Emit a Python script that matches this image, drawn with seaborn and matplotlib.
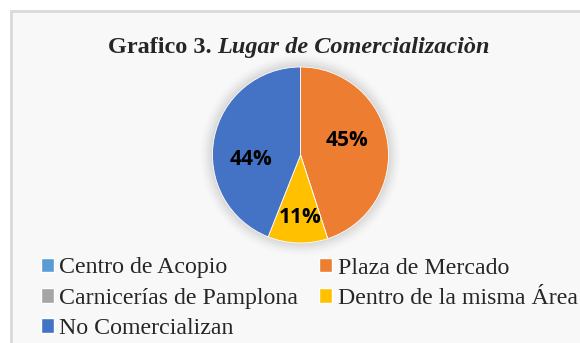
import numpy as np
import matplotlib
matplotlib.use("Agg")
import matplotlib.pyplot as plt
import seaborn as sns
from matplotlib.patches import Rectangle, Circle

sns.set_theme(style="white")
plt.rcParams["font.family"] = ["Liberation Serif", "DejaVu Serif"]

categories = ["Centro de Acopio", "Plaza de Mercado", "Carnicerías de Pamplona",
              "Dentro de la misma Área", "No Comercializan"]
values = [0, 45, 0, 11, 44]
colors = ["#5B9BD5", "#ED7D31", "#A5A5A5", "#FFC000", "#4472C4"]
# label anchor for each slice: (radial distance, angular nudge in degrees)
label_place = [(0.6, 0), (0.56, 8.7), (0.6, 0), (0.71, 1.8), (0.56, 16)]

W, H = 580, 343
fig = plt.figure(figsize=(W / 100, H / 100), dpi=100)
fig.patch.set_facecolor("white")

# chart frame
fig.patches.append(Rectangle((10.5 / W, -0.05), 1.2, (H - 10.5) / H + 0.05,
                             transform=fig.transFigure, facecolor="#f8f8f8",
                             edgecolor="#d9d9d9", linewidth=2, zorder=-5))

# title: bold prefix + bold italic remainder, centred as one line
title_y = 1 - 53.3 / H
t1 = fig.text(0, title_y, "Grafico 3. ", ha="left", va="baseline",
              fontsize=17.5, fontweight="bold", color="#262626")
t2 = fig.text(0, title_y, "Lugar de Comercializaciòn", ha="left", va="baseline",
              fontsize=17.5, fontweight="bold", fontstyle="italic", color="#262626")
fig.canvas.draw()
w1 = t1.get_window_extent().width
w2 = t2.get_window_extent().width
x0 = 299 - (w1 + w2) / 2
t1.set_x(x0 / W)
t2.set_x((x0 + w1) / W)

cx, cy, r = 300.5, 155, 88
ax = fig.add_axes([(cx - 1.2 * r) / W, (H - cy - 1.2 * r) / H, 2.4 * r / W, 2.4 * r / H])
ax.set_zorder(2)

# soft glow behind the pie
for k, a in zip(np.linspace(1.14, 1.0, 10), np.linspace(0.012, 0.05, 10)):
    ax.add_patch(Circle((0, 0), k, facecolor="#808080", alpha=a, edgecolor="none", zorder=0))

wedges, _ = ax.pie(values, colors=colors, startangle=90, counterclock=False,
                   radius=1, wedgeprops=dict(linewidth=0.6, edgecolor="white"))
ax.set_xlim(-1.2, 1.2)
ax.set_ylim(-1.2, 1.2)
ax.set_aspect("equal")
ax.axis("off")

total = sum(values)
for w, v, (d, nudge) in zip(wedges, values, label_place):
    if v == 0:
        continue
    mid = np.deg2rad((w.theta1 + w.theta2) / 2 + nudge)
    ax.text(d * np.cos(mid), d * np.sin(mid), f"{round(100 * v / total)}%",
            ha="center", va="center", fontsize=15, fontweight="bold",
            family=["Open Sans", "DejaVu Sans"], color="black")

order = [0, 2, 4, 1, 3]
handles = [Rectangle((0, 0), 1, 1, facecolor=colors[i]) for i in order]
labels = [categories[i] for i in order]
fig.legend(handles, labels, ncol=2, loc="upper left",
           bbox_to_anchor=(40.7 / W, 1 - 257.5 / H), frameon=False,
           fontsize=17.2, handlelength=0.55, handleheight=0.55,
           handletextpad=0.22, columnspacing=0.88, labelspacing=0.39,
           borderpad=0, borderaxespad=0, labelcolor="#262626")

fig.savefig("out.png", dpi=100)
